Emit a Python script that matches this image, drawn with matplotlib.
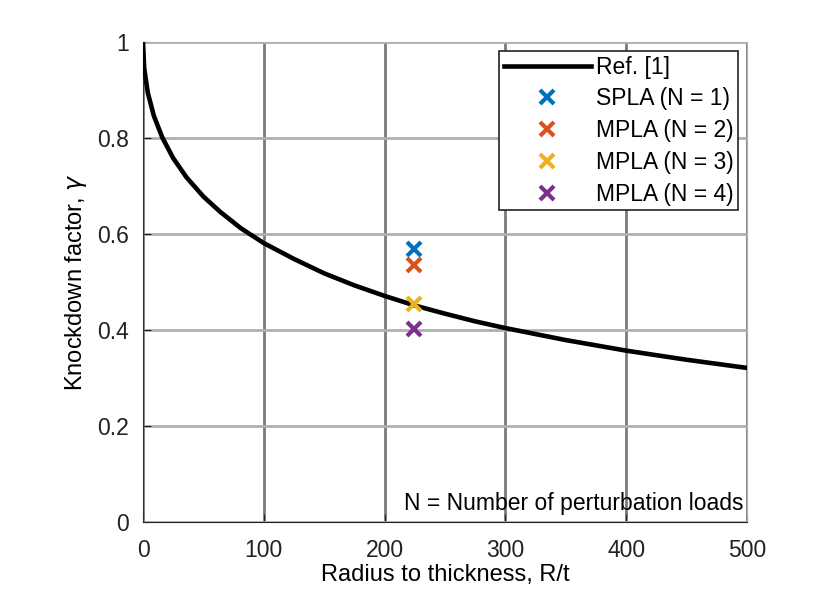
import matplotlib
matplotlib.use("Agg")
import matplotlib.pyplot as plt

plt.rcParams['font.family'] = ['Liberation Sans', 'DejaVu Sans']

# Ref. [1] curve
rt = [0, 1, 4, 9, 16, 25, 36, 50, 64, 81, 100, 125, 150, 175, 200, 225, 250,
      275, 300, 350, 400, 450, 500]
gamma = [1.0, 0.945, 0.894, 0.846, 0.801, 0.758, 0.718, 0.678, 0.646, 0.612,
         0.581, 0.548, 0.518, 0.493, 0.471, 0.451, 0.434, 0.418, 0.404, 0.379,
         0.357, 0.338, 0.321]

# test points
pt_x = [224, 224, 224, 224]
pt_y = [0.568, 0.536, 0.455, 0.402]
pt_labels = ['SPLA (N = 1)', 'MPLA (N = 2)', 'MPLA (N = 3)', 'MPLA (N = 4)']
pt_colors = ['#0072BD', '#D95319', '#EDB120', '#7E2F8E']

fig = plt.figure(figsize=(8.14, 6.04), dpi=100)
ax = fig.add_axes([143/814, 1-522/604, (747-143)/814, (522-42)/604])

ax.plot(rt, gamma, color='black', lw=3.3, label='Ref. [1]', zorder=3)
for x, y, lab, c in zip(pt_x, pt_y, pt_labels, pt_colors):
    ax.plot(x, y, 'x', color=c, ms=10, mew=3, label=lab, linestyle='none', zorder=4)

ax.set_xlim(0, 500)
ax.set_ylim(0, 1)
ax.set_xticks([0, 100, 200, 300, 400, 500])
ax.set_yticks([0, 0.2, 0.4, 0.6, 0.8, 1])
ax.set_yticklabels(['0', '0.2', '0.4', '0.6', '0.8', '1'])
ax.xaxis.grid(True, color='#7a7a7a', lw=2)
ax.yaxis.grid(True, color='#b0b0b0', lw=2)
ax.set_axisbelow(True)
for s in ['top', 'right']:
    ax.spines[s].set_color('#b0b0b0')
ax.spines['left'].set_color('#333333')
ax.spines['bottom'].set_color('#222222')
ax.tick_params(labelsize=16.5, direction='in', length=6, colors='#222222')
ax.tick_params(axis='x', pad=12)
ax.tick_params(axis='y', pad=10)

ax.set_xlabel('Radius to thickness, R/t', fontsize=17, labelpad=2)
ax.set_ylabel(r'Knockdown factor, $\gamma$', fontsize=17, labelpad=6)

leg = ax.legend(loc='upper right', fontsize=16.5, frameon=True, fancybox=False,
                edgecolor='#222222', framealpha=1, handlelength=3.8,
                borderpad=0.2, labelspacing=0.38, handletextpad=0.2,
                borderaxespad=0.4)
leg.get_frame().set_linewidth(1.2)

ax.text(497, 0.015, 'N = Number of perturbation loads', fontsize=16.5,
        ha='right', va='bottom')

fig.savefig('out.png', dpi=100)
